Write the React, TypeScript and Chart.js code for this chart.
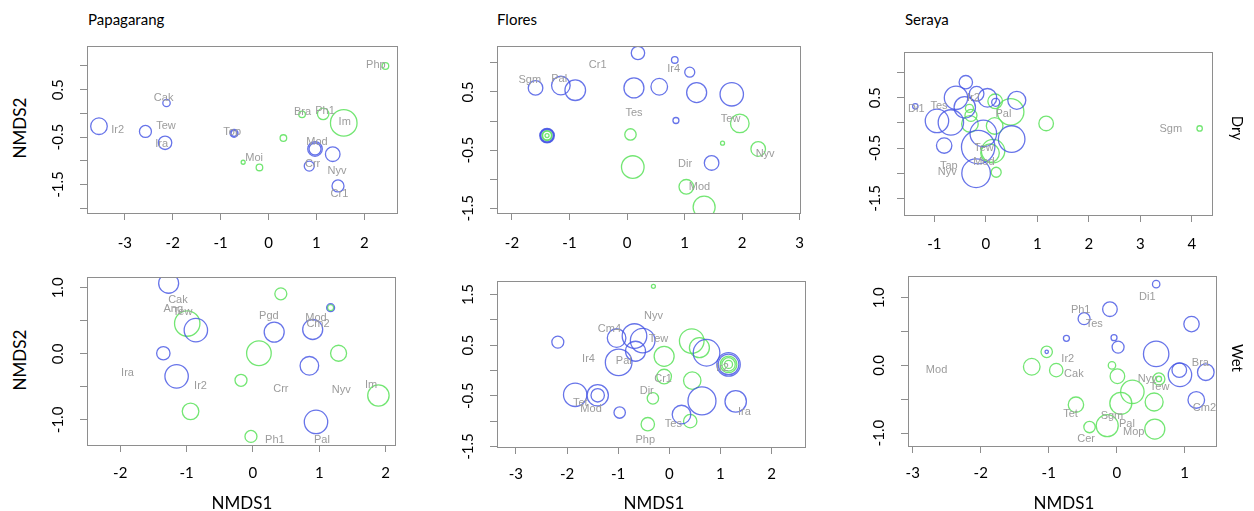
import { useEffect, useRef } from "react";
import { Chart, registerables } from "chart.js";

Chart.register(...registerables);

type Pt = [number, number, number]; // NMDS1, NMDS2, circle size
type Lab = [string, number, number]; // species code, NMDS1, NMDS2

// ---------- Papagarang, dry season ----------
const papDryBlue: Pt[] = [
  [-3.54, -0.27, 8.3], [-2.57, -0.38, 6], [-2.13, 0.22, 3.7], [-2.16, -0.62, 6.7],
  [-0.72, -0.42, 4], [-0.72, -0.42, 3], [0.97, -0.75, 7.3], [0.97, -0.75, 6],
  [1.34, -0.86, 7.3], [0.85, -1.11, 5], [1.45, -1.53, 6],
];
const papDryGreen: Pt[] = [
  [2.44, 1.0, 3.3], [1.57, -0.2, 13.3], [1.14, -0.01, 5.7], [0.7, -0.02, 3.3],
  [0.31, -0.52, 3.3], [-0.53, -1.03, 2], [-0.19, -1.14, 3.3],
];
const papDryLabels: Lab[] = [
  ["Ir2", -3.15, -0.35], ["Cak", -2.19, 0.33], ["Tew", -2.14, -0.26], ["Ira", -2.23, -0.65],
  ["Top", -0.76, -0.4], ["Moi", -0.3, -0.93], ["Bra", 0.71, 0.04], ["Ph1", 1.18, 0.05],
  ["Im", 1.59, -0.19], ["Mod", 1.01, -0.6], ["Crr", 0.92, -1.06], ["Nyv", 1.43, -1.22],
  ["Cr1", 1.48, -1.7], ["Php", 2.24, 1.03],
];

// ---------- Flores, dry season ----------
const floDryBlue: Pt[] = [
  [0.19, 1.17, 6.7], [0.83, 1.05, 3.3], [1.09, 0.84, 5], [-1.59, 0.57, 7.3],
  [-1.15, 0.61, 9.3], [-0.9, 0.53, 10.3], [0.12, 0.57, 10], [0.56, 0.59, 8.3],
  [1.21, 0.49, 10], [1.82, 0.46, 11.7], [0.85, 0.01, 3], [1.47, -0.72, 7.3],
  [-1.39, -0.25, 7.3], [-1.39, -0.25, 6.8], [-1.39, -0.25, 6.3],
];
const floDryGreen: Pt[] = [
  [-1.39, -0.25, 5], [-1.39, -0.25, 4.4], [-1.39, -0.25, 2], [0.06, -0.23, 5.7],
  [0.1, -0.79, 11.3], [1.96, -0.04, 9.3], [1.66, -0.38, 2], [2.28, -0.48, 7.3],
  [1.03, -1.13, 7.3], [1.34, -1.48, 11],
];
const floDryLabels: Lab[] = [
  ["Sgm", -1.69, 0.7], ["Pal", -1.18, 0.73], ["Cr1", -0.51, 0.96], ["Ir4", 0.81, 0.9],
  ["Tes", 0.12, 0.14], ["Tew", 1.8, 0.03], ["Nyv", 2.4, -0.57], ["Dir", 1.01, -0.74],
  ["Mod", 1.26, -1.14],
];

// ---------- Seraya, dry season ----------
const serDryBlue: Pt[] = [
  [-1.37, 0.33, 2.7], [-0.39, 0.81, 6.7], [-0.58, 0.5, 11.7], [-0.18, 0.58, 7.3],
  [0.03, 0.5, 9.3], [-0.41, 0.31, 10.7], [0.19, 0.41, 4], [0.6, 0.45, 9],
  [-0.95, 0.04, 11.7], [-0.68, 0.01, 12.7], [-0.05, -0.21, 13.3], [0.5, -0.32, 13.3],
  [-0.81, -0.45, 7.7], [-0.15, -0.48, 16.7], [-0.19, -1.0, 14.3],
];
const serDryGreen: Pt[] = [
  [0.18, 0.43, 7.3], [0.48, 0.22, 13.3], [-0.32, 0.29, 4], [-0.29, 0.15, 6],
  [-0.31, -0.02, 8.3], [0.17, -0.06, 8.3], [1.17, -0.01, 7.3], [4.15, -0.11, 2.7],
  [0.14, -0.56, 11.7], [0.08, -0.6, 9.3], [0.2, -0.98, 5],
];
const serDryLabels: Lab[] = [
  ["Di1", -1.35, 0.28], ["Tes", -0.91, 0.34], ["Ir2", -0.24, 0.5], ["Pal", 0.34, 0.17],
  ["Sgm", 3.59, -0.11], ["Tew", -0.04, -0.5], ["Mod", -0.04, -0.77], ["Tap", -0.72, -0.86],
  ["Nyv", -0.75, -0.97],
];

// ---------- Papagarang, wet season ----------
const papWetBlue: Pt[] = [
  [-1.27, 1.07, 10], [-0.86, 0.36, 11.7], [-1.35, 0.01, 6.7], [-1.15, -0.34, 11.7],
  [0.32, 0.33, 10], [0.9, 0.37, 10], [1.17, 0.7, 4], [0.85, -0.18, 9.3], [0.95, -1.03, 11.7],
];
const papWetGreen: Pt[] = [
  [0.42, 0.91, 6], [-0.99, 0.46, 12.7], [0.09, 0.01, 12.3], [1.29, 0.01, 8],
  [-0.18, -0.4, 6], [-0.94, -0.87, 8.3], [-0.03, -1.25, 6], [1.89, -0.63, 10.7],
  [1.17, 0.7, 3],
];
const papWetLabels: Lab[] = [
  ["Cak", -1.13, 0.82], ["Ang", -1.2, 0.68], ["Tew", -1.06, 0.64], ["Pgd", 0.24, 0.58],
  ["Mod", 0.95, 0.55], ["Cm2", 0.98, 0.46], ["Ira", -1.89, -0.29], ["Ir2", -0.79, -0.49],
  ["Crr", 0.42, -0.53], ["Nyv", 1.33, -0.54], ["Im", 1.78, -0.47], ["Ph1", 0.33, -1.3],
  ["Pal", 1.04, -1.31],
];

// ---------- Flores, wet season ----------
const floWetBlue: Pt[] = [
  [-2.18, 0.56, 6], [-1.03, 0.64, 9.3], [-0.68, 0.68, 12.3], [-0.52, 0.59, 12.3],
  [-0.66, 0.38, 10], [-0.99, 0.16, 13.3], [0.73, 0.35, 13.3], [1.16, 0.12, 11.7],
  [1.16, 0.12, 10.3], [-1.84, -0.48, 11.7], [-1.4, -0.49, 10.7], [-1.4, -0.49, 6.7],
  [-0.97, -0.83, 5.7], [0.24, -0.87, 9.3], [0.64, -0.6, 14], [1.3, -0.61, 10.7],
];
const floWetGreen: Pt[] = [
  [-0.31, 1.66, 2], [0.44, 0.58, 12.3], [0.59, 0.45, 10], [-0.1, 0.28, 10],
  [-0.1, -0.12, 7.3], [0.45, -0.2, 8.7], [-0.32, -0.55, 5.7], [-0.42, -1.06, 6.7],
  [0.41, -1.0, 6.7], [1.16, 0.12, 8.3], [1.16, 0.12, 6.7], [1.16, 0.12, 4],
];
const floWetLabels: Lab[] = [
  ["Nyv", -0.31, 1.08], ["Cm4", -1.17, 0.81], ["Tew", -0.21, 0.63], ["Ir4", -1.58, 0.23],
  ["Pal", -0.89, 0.19], ["Ir2", 1.04, 0.04], ["Cr1", -0.12, -0.17], ["Dir", -0.44, -0.41],
  ["Tet", -1.74, -0.65], ["Mod", -1.53, -0.75], ["Ira", 1.47, -0.81], ["Tes", 0.08, -1.06],
  ["Php", -0.47, -1.37],
];

// ---------- Seraya, wet season ----------
const serWetBlue: Pt[] = [
  [0.58, 1.2, 3.7], [-0.1, 0.83, 7.3], [-0.48, 0.69, 6], [1.1, 0.61, 7.7],
  [-0.74, 0.4, 3], [-0.04, 0.41, 3], [0.02, 0.27, 6], [0.58, 0.17, 12.7],
  [-1.03, 0.2, 1.7], [0.92, -0.07, 7.3], [0.93, -0.14, 11.7], [1.31, -0.1, 8.3],
  [1.17, -0.51, 8.3],
];
const serWetGreen: Pt[] = [
  [-1.03, 0.2, 5.7], [-1.25, -0.02, 8.3], [-0.89, -0.07, 6.7], [-0.07, 0.0, 3.7],
  [0.01, -0.16, 7.3], [0.62, -0.2, 6], [0.62, -0.2, 2.7], [0.23, -0.39, 11.7],
  [0.06, -0.56, 11], [0.55, -0.54, 9], [-0.6, -0.58, 7.7], [-0.14, -0.89, 11],
  [-0.4, -0.91, 5.7], [0.56, -0.94, 10],
];
const serWetLabels: Lab[] = [
  ["Di1", 0.45, 1.01], ["Ph1", -0.53, 0.82], ["Tes", -0.33, 0.61], ["Ir2", -0.72, 0.09],
  ["Mod", -2.65, -0.07], ["Bra", 1.23, 0.04], ["Cak", -0.63, -0.13], ["Nyv", 0.45, -0.2],
  ["Tew", 0.63, -0.32], ["Cm2", 1.29, -0.63], ["Tet", -0.68, -0.72], ["Sgm", -0.07, -0.74],
  ["Pal", 0.15, -0.87], ["Mop", 0.25, -0.99], ["Cer", -0.45, -1.09],
];

// ---------- axis ticks ----------
const xTicksPapDry = [-3, -2, -1, 0, 1, 2];
const xTicksFloDry = [-2, -1, 0, 1, 2, 3];
const xTicksSerDry = [-1, 0, 1, 2, 3, 4];
const xTicksPapWet = [-2, -1, 0, 1, 2];
const xTicksFloWet = [-3, -2, -1, 0, 1, 2];
const xTicksSerWet = [-3, -2, -1, 0, 1];

const yMarksPapDry = [-2, -1.5, -1, -0.5, 0, 0.5, 1];
const yMarksDry = [-1.5, -1, -0.5, 0, 0.5, 1];
const yMarksWetA = [-1, -0.5, 0, 0.5, 1];
const yMarksFloWet = [-1.5, -1, -0.5, 0, 0.5, 1, 1.5];
const yLabelsDry = [0.5, -0.5, -1.5];
const yLabelsWetA = [1, 0, -1];
const yLabelsFloWet = [1.5, 0.5, -0.5, -1.5];

const BLUE = "rgba(70, 85, 228, 0.82)";
const GREEN = "rgba(96, 226, 96, 0.88)";
const AXIS = "#8e8e8e";
const LABEL_GREY = "#9c9c9c";
const TICK_FONT = "Lato, 'Open Sans', sans-serif";
const R_UNIT = 1;

// space round each plot frame inside its canvas; the x axis band takes the bottom part
const PAD = { left: 50, right: 12, top: 12 };
const X_BAND = 48;

type PanelCfg = {
  box: { l: number; t: number; r: number; b: number };
  x: [number, number];
  y: [number, number];
  blue: Pt[];
  green: Pt[];
  labels: Lab[];
  xTicks: number[];
  yMarks: number[];
  yLabels: number[];
  xPad: number;
};

const panels: PanelCfg[] = [
  { box: { l: 87, t: 43, r: 400, b: 213 }, x: [-3.79, 2.69], y: [-2.1, 1.43], blue: papDryBlue, green: papDryGreen, labels: papDryLabels, xTicks: xTicksPapDry, yMarks: yMarksPapDry, yLabels: yLabelsDry, xPad: 14 },
  { box: { l: 497, t: 45, r: 806, b: 213 }, x: [-2.26, 3.005], y: [-1.58, 1.29], blue: floDryBlue, green: floDryGreen, labels: floDryLabels, xTicks: xTicksFloDry, yMarks: yMarksDry, yLabels: yLabelsDry, xPad: 14 },
  { box: { l: 904, t: 46, r: 1218, b: 215 }, x: [-1.59, 4.39], y: [-1.83, 1.41], blue: serDryBlue, green: serDryGreen, labels: serDryLabels, xTicks: xTicksSerDry, yMarks: yMarksDry, yLabels: yLabelsDry, xPad: 13 },
  { box: { l: 87, t: 275, r: 397, b: 445 }, x: [-2.5, 2.14], y: [-1.38, 1.165], blue: papWetBlue, green: papWetGreen, labels: papWetLabels, xTicks: xTicksPapWet, yMarks: yMarksWetA, yLabels: yLabelsWetA, xPad: 12 },
  { box: { l: 497, t: 278, r: 808, b: 447 }, x: [-3.37, 2.65], y: [-1.51, 1.76], blue: floWetBlue, green: floWetGreen, labels: floWetLabels, xTicks: xTicksFloWet, yMarks: yMarksFloWet, yLabels: yLabelsFloWet, xPad: 11 },
  { box: { l: 908, t: 274, r: 1218, b: 446 }, x: [-3.07, 1.46], y: [-1.19, 1.32], blue: serWetBlue, green: serWetGreen, labels: serWetLabels, xTicks: xTicksSerWet, yMarks: yMarksWetA, yLabels: yLabelsWetA, xPad: 11 },
];

// Frame, species codes and rotated y tick labels, drawn in R base-graphics style.
const frameAndText = {
  id: "frameAndText",
  afterDatasetsDraw(chart: any, _args: any, opts: any) {
    const cfg: PanelCfg = opts.cfg;
    const { ctx, chartArea: a } = chart;
    const xs = chart.scales.x;
    const ys = chart.scales.y;

    ctx.save();
    ctx.beginPath();
    ctx.rect(a.left, a.top, a.right - a.left, a.bottom - a.top);
    ctx.clip();
    ctx.fillStyle = LABEL_GREY;
    ctx.font = "11px 'Liberation Sans', Arial, sans-serif";
    ctx.textAlign = "center";
    ctx.textBaseline = "middle";
    for (const [name, x, y] of cfg.labels) {
      ctx.fillText(name, xs.getPixelForValue(x), ys.getPixelForValue(y));
    }
    ctx.restore();

    ctx.save();
    ctx.strokeStyle = AXIS;
    ctx.lineWidth = 1;
    ctx.strokeRect(Math.round(a.left) + 0.5, Math.round(a.top) + 0.5, Math.round(a.right - a.left), Math.round(a.bottom - a.top));

    ctx.fillStyle = "#000";
    ctx.font = `15px ${TICK_FONT}`;
    ctx.textAlign = "center";
    ctx.textBaseline = "middle";
    for (const v of cfg.yLabels) {
      ctx.save();
      ctx.translate(a.left - 29, ys.getPixelForValue(v));
      ctx.rotate(-Math.PI / 2);
      ctx.fillText(v.toFixed(1), 0, 0);
      ctx.restore();
    }
    ctx.restore();
  },
};

function Panel({ cfg }: { cfg: PanelCfg }) {
  const ref = useRef<HTMLCanvasElement>(null);
  const w = cfg.box.r - cfg.box.l + PAD.left + PAD.right;
  const h = cfg.box.b - cfg.box.t + PAD.top + X_BAND;

  useEffect(() => {
    const toBubbles = (pts: Pt[]) => pts.map(([x, y, s]) => ({ x, y, r: s * R_UNIT }));
    const chart = new Chart(ref.current!, {
      type: "bubble",
      data: {
        datasets: [
          { data: toBubbles(cfg.blue), borderColor: BLUE, backgroundColor: "rgba(0,0,0,0)", borderWidth: 1.3 },
          { data: toBubbles(cfg.green), borderColor: GREEN, backgroundColor: "rgba(0,0,0,0)", borderWidth: 1.3 },
        ],
      },
      options: {
        animation: false,
        responsive: false,
        maintainAspectRatio: false,
        events: [],
        layout: { padding: { left: PAD.left, right: PAD.right, top: PAD.top, bottom: 0 } },
        plugins: {
          legend: { display: false },
          tooltip: { enabled: false },
          frameAndText: { cfg },
        } as any,
        scales: {
          x: {
            type: "linear",
            position: "bottom",
            min: cfg.x[0],
            max: cfg.x[1],
            afterBuildTicks: (s: any) => { s.ticks = cfg.xTicks.map((v) => ({ value: v })); },
            afterFit: (s: any) => { s.height = X_BAND; },
            grid: { drawOnChartArea: false, drawTicks: true, tickLength: 7, color: AXIS, lineWidth: 1 },
            border: { display: false },
            ticks: {
              autoSkip: false,
              maxRotation: 0,
              minRotation: 0,
              padding: cfg.xPad,
              color: "#000",
              font: { family: TICK_FONT, size: 15 },
              callback: (v: any) => String(v),
            },
          },
          y: {
            type: "linear",
            position: "left",
            min: cfg.y[0],
            max: cfg.y[1],
            afterBuildTicks: (s: any) => { s.ticks = cfg.yMarks.map((v) => ({ value: v })); },
            afterFit: (s: any) => { s.width = 0; },
            grid: { drawOnChartArea: false, drawTicks: true, tickLength: 7, color: AXIS, lineWidth: 1 },
            border: { display: false },
            ticks: { display: false },
          },
        },
      },
      plugins: [frameAndText],
    });
    return () => chart.destroy();
  }, [cfg]);

  return (
    <canvas
      ref={ref}
      width={w}
      height={h}
      style={{ position: "absolute", left: cfg.box.l - PAD.left, top: cfg.box.t - PAD.top, width: w, height: h }}
    />
  );
}

const siteTitles: [string, number][] = [["Papagarang", 88], ["Flores", 497], ["Seraya", 905]];
const seasonTitles: [string, number][] = [["Dry", 128], ["Wet", 358]];
const xTitleCentres = [242, 654, 1064];
const yTitleCentres = [128, 360];

const textBase: React.CSSProperties = {
  position: "absolute",
  fontFamily: TICK_FONT,
  color: "#000",
  whiteSpace: "nowrap",
  lineHeight: 1,
};

export default function App() {
  return (
    <div style={{ position: "absolute", left: 0, top: 0, width: 1254, height: 511, background: "#fff", overflow: "hidden" }}>
      {panels.map((p, i) => (
        <Panel key={i} cfg={p} />
      ))}
      {siteTitles.map(([t, x]) => (
        <div key={t} style={{ ...textBase, left: x, top: 12, fontSize: 15 }}>{t}</div>
      ))}
      {seasonTitles.map(([t, y]) => (
        <div key={t} style={{ ...textBase, left: 1237, top: y, fontSize: 15, transform: "translate(-50%, -50%) rotate(90deg)" }}>{t}</div>
      ))}
      {xTitleCentres.map((x, i) => (
        <div key={i} style={{ ...textBase, left: x, top: 502, fontSize: 17, transform: "translate(-50%, -50%)" }}>NMDS1</div>
      ))}
      {yTitleCentres.map((y, i) => (
        <div key={i} style={{ ...textBase, left: 19, top: y, fontSize: 17, transform: "translate(-50%, -50%) rotate(-90deg)" }}>NMDS2</div>
      ))}
    </div>
  );
}
